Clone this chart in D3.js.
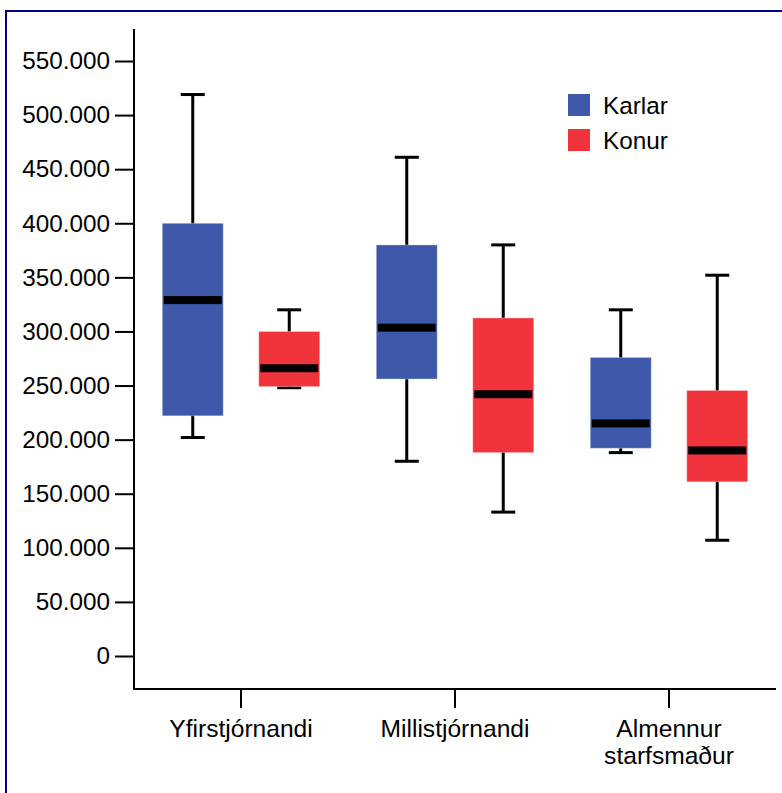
<!DOCTYPE html>
<html lang="is">
<head>
<meta charset="utf-8">
<title>Laun eftir starfi og kyni</title>
<script src="https://cdnjs.cloudflare.com/ajax/libs/d3/7.8.5/d3.min.js"></script>
<style>
  body { margin: 0; background: #fff; }
  svg { display: block; font-family: "Liberation Sans", Arial, sans-serif; }
</style>
</head>
<body>
<svg id="chart" width="782" height="793"></svg>
<script>
// categories and series
const categories = ["Yfirstjórnandi", "Millistjórnandi", "Almennur starfsmaður"];
const series = ["Karlar", "Konur"];
const colors = ["#3e59aa", "#f1333b"];

// box plot statistics, one value per category
const karlarMin = [202000, 180000, 188000];
const karlarQ1 = [222000, 256000, 192000];
const karlarMedian = [329000, 303500, 215000];
const karlarQ3 = [400000, 380000, 276000];
const karlarMax = [519000, 461000, 320000];

const konurMin = [248000, 133000, 107000];
const konurQ1 = [249000, 188000, 161000];
const konurMedian = [266000, 242000, 190000];
const konurQ3 = [300000, 312500, 245500];
const konurMax = [320000, 380000, 352000];

const yTicks = [0, 50000, 100000, 150000, 200000, 250000, 300000, 350000, 400000, 450000, 500000, 550000];

// build rows for the data bind
const stats = {
  Karlar: { min: karlarMin, q1: karlarQ1, med: karlarMedian, q3: karlarQ3, max: karlarMax },
  Konur: { min: konurMin, q1: konurQ1, med: konurMedian, q3: konurQ3, max: konurMax }
};
let boxes = [];
series.forEach((s, si) => {
  categories.forEach((c, ci) => {
    boxes.push({
      cat: c, ser: s, color: colors[si],
      min: stats[s].min[ci], q1: stats[s].q1[ci], med: stats[s].med[ci],
      q3: stats[s].q3[ci], max: stats[s].max[ci]
    });
  });
});

const svg = d3.select("#chart");

// frame
svg.append("rect")
  .attr("x", 6).attr("y", 11)
  .attr("width", 800).attr("height", 800)
  .attr("fill", "none")
  .attr("stroke", "#000085")
  .attr("stroke-width", 2);

const left = 134, right = 776, axisTop = 29, axisBottom = 689;

let y = d3.scaleLinear().domain([0, 550000]).range([656, 61]);
let x = d3.scaleBand().domain(categories).range([left, right]);
let xs = d3.scalePoint().domain(series).range([-48.25, 48.25]);
const boxW = 61, capW = 24;

const locale = d3.formatLocale({ decimal: ",", thousands: ".", grouping: [3], currency: ["", " kr."] });
const fmt = locale.format(",");

// y axis
let yAxis = svg.append("g")
  .attr("transform", `translate(${left},0)`)
  .call(d3.axisLeft(y).tickValues(yTicks).tickFormat(fmt).tickSize(19).tickPadding(5));
yAxis.select(".domain").remove();
yAxis.selectAll("line").attr("stroke", "#000").attr("stroke-width", 2);
yAxis.selectAll("text").attr("fill", "#000").style("font-size", "24.3px")
  .style("font-family", "'Liberation Sans', Arial, sans-serif");

// x axis
let xAxis = svg.append("g")
  .attr("transform", `translate(0,${axisBottom})`)
  .call(d3.axisBottom(x).tickSize(19).tickPadding(8));
xAxis.select(".domain").remove();
xAxis.selectAll("line").attr("stroke", "#000").attr("stroke-width", 2);
xAxis.selectAll("text").remove();

// x labels, wrapped on space for the last one
svg.append("g").selectAll("text")
  .data(categories).enter()
  .append("text")
  .attr("x", d => x(d) + x.bandwidth() / 2)
  .attr("y", 737)
  .attr("text-anchor", "middle")
  .style("font-size", "24.6px")
  .each(function(d) {
    let words = d === "Almennur starfsmaður" ? d.split(" ") : [d];
    d3.select(this).selectAll("tspan")
      .data(words).enter()
      .append("tspan")
      .attr("x", x(d) + x.bandwidth() / 2)
      .attr("dy", (w, i) => i === 0 ? 0 : 27)
      .text(w => w);
  });

// axis lines
svg.append("path")
  .attr("d", `M${left},${axisTop}V${axisBottom}H${right}`)
  .attr("fill", "none")
  .attr("stroke", "#000")
  .attr("stroke-width", 2);

// boxes
let g = svg.append("g").selectAll("g")
  .data(boxes).enter()
  .append("g")
  .attr("transform", d => `translate(${x(d.cat) + x.bandwidth() / 2 + xs(d.ser)},0)`);

// whiskers
g.append("line")
  .attr("x1", 0).attr("x2", 0)
  .attr("y1", d => y(d.max)).attr("y2", d => y(d.min))
  .attr("stroke", "#000").attr("stroke-width", 3);
g.selectAll(".cap")
  .data(d => [d.min, d.max]).enter()
  .append("line")
  .attr("class", "cap")
  .attr("x1", -capW / 2).attr("x2", capW / 2)
  .attr("y1", v => y(v)).attr("y2", v => y(v))
  .attr("stroke", "#000").attr("stroke-width", 3);

g.append("rect")
  .attr("x", -boxW / 2)
  .attr("width", boxW)
  .attr("y", d => y(d.q3))
  .attr("height", d => y(d.q1) - y(d.q3))
  .attr("fill", d => d.color)
  .attr("stroke", "#fff")
  .attr("stroke-opacity", 0.35)
  .attr("stroke-width", 1);

g.append("rect")
  .attr("x", -boxW / 2 + 1.5)
  .attr("width", boxW - 3)
  .attr("y", d => y(d.med) - 4)
  .attr("height", 8)
  .attr("fill", "#000");

// legend
let legend = svg.append("g").selectAll("g")
  .data(series).enter()
  .append("g")
  .attr("transform", (d, i) => `translate(568,${94 + i * 35})`);
legend.append("rect")
  .attr("width", 22).attr("height", 22)
  .attr("fill", (d, i) => colors[i]);
legend.append("text")
  .attr("x", 35).attr("y", 20)
  .style("font-size", "24.3px")
  .text(d => d);
</script>
</body>
</html>
